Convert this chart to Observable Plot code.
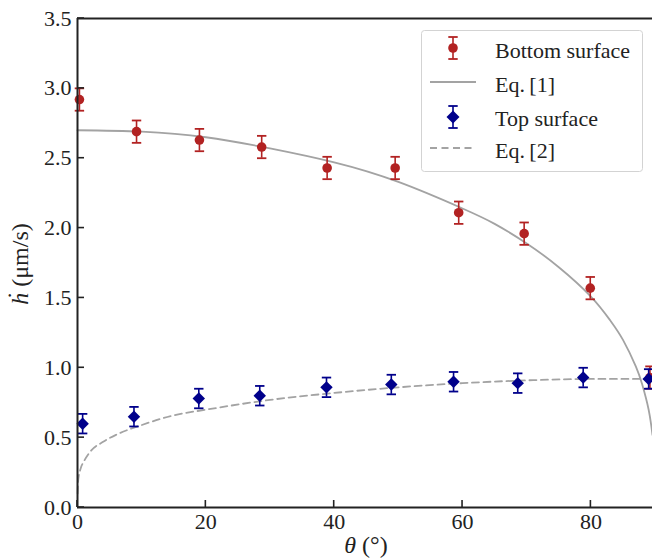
<!DOCTYPE html>
<html><head><meta charset="utf-8">
<script src="https://cdn.jsdelivr.net/npm/d3@7"></script>
<script src="https://cdn.jsdelivr.net/npm/@observablehq/plot@0.6"></script>
<style>
html,body{margin:0;padding:0;background:#fff;}
#wrap{position:relative;width:652px;height:558px;overflow:hidden;font-family:"Liberation Serif","DejaVu Serif",serif;}
#wrap svg, #wrap svg text{font-family:"Liberation Serif","DejaVu Serif",serif !important;}
#legend{position:absolute;left:421px;top:30px;}
</style>
</head><body>
<div id="wrap"></div>
<script>
// ---- data ----
const xTicks = [0, 20, 40, 60, 80];
const yTicks = [0, 0.5, 1.0, 1.5, 2.0, 2.5, 3.0, 3.5];

const bottomTheta = [0.3, 9.2, 19.0, 28.7, 38.9, 49.5, 59.4, 69.6, 79.9, 89.2];
const bottomH     = [2.92, 2.69, 2.63, 2.58, 2.43, 2.43, 2.11, 1.96, 1.57, 0.93];
const bottomErr   = [0.08, 0.08, 0.08, 0.08, 0.08, 0.08, 0.08, 0.08, 0.08, 0.08];

const topTheta = [0.8, 8.8, 18.9, 28.4, 38.8, 48.9, 58.6, 68.6, 78.8, 89.0];
const topH     = [0.60, 0.65, 0.78, 0.80, 0.86, 0.88, 0.90, 0.89, 0.93, 0.92];
const topErr   = [0.07, 0.07, 0.07, 0.07, 0.07, 0.07, 0.07, 0.07, 0.07, 0.07];

// curves
const eq1Theta = [0, 10, 20, 30, 40, 50, 60, 65, 70, 75, 80, 83, 85, 87, 88, 89, 89.6];
const eq1H     = [2.70, 2.69, 2.65, 2.57, 2.47, 2.33, 2.14, 2.03, 1.89, 1.72, 1.51, 1.34, 1.20, 1.01, 0.88, 0.70, 0.52];
const eq2Theta = [0.02, 0.1, 0.5, 1, 2, 4, 6, 10, 15, 20, 30, 40, 50, 60, 70, 80, 89.6];
const eq2H     = [0.10, 0.19, 0.28, 0.33, 0.40, 0.47, 0.52, 0.59, 0.66, 0.70, 0.77, 0.82, 0.86, 0.89, 0.91, 0.92, 0.92];

const RED = "#b22222", BLUE = "#00008b", GRAY = "#a3a3a3", AX = "#222";
const SERIF = "Liberation Serif, DejaVu Serif, serif";

const bottomData = bottomTheta.map((t, i) => ({t, h: bottomH[i], lo: bottomH[i] - bottomErr[i], hi: bottomH[i] + bottomErr[i]}));
const topData = topTheta.map((t, i) => ({t, h: topH[i], lo: topH[i] - topErr[i], hi: topH[i] + topErr[i]}));
const eq1Data = eq1Theta.map((t, i) => ({t, h: eq1H[i]}));
const eq2Data = eq2Theta.map((t, i) => ({t, h: eq2H[i]}));

const cap = {draw(ctx) { ctx.moveTo(-4.7, 0); ctx.lineTo(4.7, 0); }};

function errMarks(data, color, symbol, r) {
  return [
    Plot.ruleX(data, {x: "t", y1: "lo", y2: "hi", stroke: color, strokeWidth: 1.6}),
    Plot.dot(data, {x: "t", y: "lo", symbol: cap, r: 3, stroke: color, fill: "none", strokeWidth: 1.8}),
    Plot.dot(data, {x: "t", y: "hi", symbol: cap, r: 3, stroke: color, fill: "none", strokeWidth: 1.8}),
    Plot.dot(data, {x: "t", y: "h", symbol, r, fill: color, stroke: "none"})
  ];
}

const chart = Plot.plot({
  width: 652, height: 558,
  marginLeft: 77, marginRight: 0, marginTop: 18, marginBottom: 51,
  x: {domain: [0, 89.6]},
  y: {domain: [0, 3.5]},
  style: {fontFamily: SERIF, fontSize: "22px", color: "#222", background: "white", overflow: "hidden"},
  marks: [
    Plot.axisX(xTicks, {tickSize: 0, tickPadding: 6, label: null, fontSize: 22, fontFamily: SERIF, tickFormat: d => String(d)}),
    Plot.axisY(yTicks, {tickSize: 0, tickPadding: 6, label: null, fontSize: 22, fontFamily: SERIF, tickFormat: d3.format(".1f")}),
    Plot.line(eq1Data, {x: "t", y: "h", stroke: GRAY, strokeWidth: 1.8, curve: "natural"}),
    Plot.line(eq2Data, {x: "t", y: "h", stroke: GRAY, strokeWidth: 1.8, strokeDasharray: "7,4.5", curve: "monotone-x"}),
    ...errMarks(bottomData, RED, "circle", 4.8),
    ...errMarks(topData, BLUE, "diamond2", 5.6),
    Plot.ruleY([0], {stroke: AX, strokeWidth: 2}),
    Plot.ruleY([3.5], {stroke: AX, strokeWidth: 2}),
    Plot.ruleX([0], {stroke: AX, strokeWidth: 2})
  ]
});

const svg = d3.select(chart).attr("font-family", SERIF).style("font-family", SERIF);
svg.selectAll("text").attr("font-family", SERIF);

// inward ticks, positioned with the chart's own scales
const sx = chart.scale("x"), sy = chart.scale("y");
const tg = svg.append("g").attr("stroke", AX).attr("stroke-width", 1.6);
xTicks.forEach(v => { const px = sx.apply(v); const py = sy.apply(0);
  tg.append("line").attr("x1", px).attr("x2", px).attr("y1", py).attr("y2", py - 7); });
yTicks.forEach(v => { const px = sx.apply(0); const py = sy.apply(v);
  tg.append("line").attr("x1", px).attr("x2", px + 7).attr("y1", py).attr("y2", py); });

// axis labels
svg.append("text")
  .attr("x", 366).attr("y", 553).attr("text-anchor", "middle")
  .attr("font-size", 24).attr("font-family", SERIF).attr("fill", "#222")
  .call(t => { t.append("tspan").attr("font-style", "italic").text("θ"); t.append("tspan").text(" (°)"); });
svg.append("text")
  .attr("transform", "translate(28,264) rotate(-90)").attr("text-anchor", "middle")
  .attr("font-size", 24).attr("font-family", SERIF).attr("fill", "#222")
  .call(t => { t.append("tspan").attr("font-style", "italic").text("ḣ"); t.append("tspan").text(" (μm/s)"); });

document.getElementById("wrap").appendChild(chart);

// legend
const lg = d3.select("#wrap").append("svg").attr("id", "legend").attr("width", 224).attr("height", 144)
  .attr("font-family", SERIF);
lg.append("rect").attr("x", 0.5).attr("y", 0.5).attr("width", 221).attr("height", 141).attr("rx", 3)
  .attr("fill", "rgba(255,255,255,0.85)").attr("stroke", "#d3d3d3");
function lgErr(cy, color) {
  lg.append("line").attr("x1", 32).attr("x2", 32).attr("y1", cy - 11).attr("y2", cy + 11).attr("stroke", color).attr("stroke-width", 1.6);
  lg.append("line").attr("x1", 27.3).attr("x2", 36.7).attr("y1", cy - 11).attr("y2", cy - 11).attr("stroke", color).attr("stroke-width", 1.8);
  lg.append("line").attr("x1", 27.3).attr("x2", 36.7).attr("y1", cy + 11).attr("y2", cy + 11).attr("stroke", color).attr("stroke-width", 1.8);
}
lgErr(18, RED);
lg.append("circle").attr("cx", 32).attr("cy", 18).attr("r", 4.8).attr("fill", RED);
lg.append("line").attr("x1", 9).attr("x2", 55).attr("y1", 52).attr("y2", 52).attr("stroke", GRAY).attr("stroke-width", 1.8);
lgErr(87, BLUE);
lg.append("path").attr("d", "M32,80.5L38.5,87L32,93.5L25.5,87Z").attr("fill", BLUE);
lg.append("line").attr("x1", 9).attr("x2", 55).attr("y1", 118).attr("y2", 118).attr("stroke", GRAY).attr("stroke-width", 1.8).attr("stroke-dasharray", "7,4.5");
const labels = [["Bottom surface", 27.5], ["Eq.\u2009[1]", 61.5], ["Top surface", 95.5], ["Eq.\u2009[2]", 127.5]];
labels.forEach(([s, y]) => lg.append("text").attr("x", 74).attr("y", y).attr("font-size", 22).attr("fill", "#222").text(s));
</script>
</body></html>
